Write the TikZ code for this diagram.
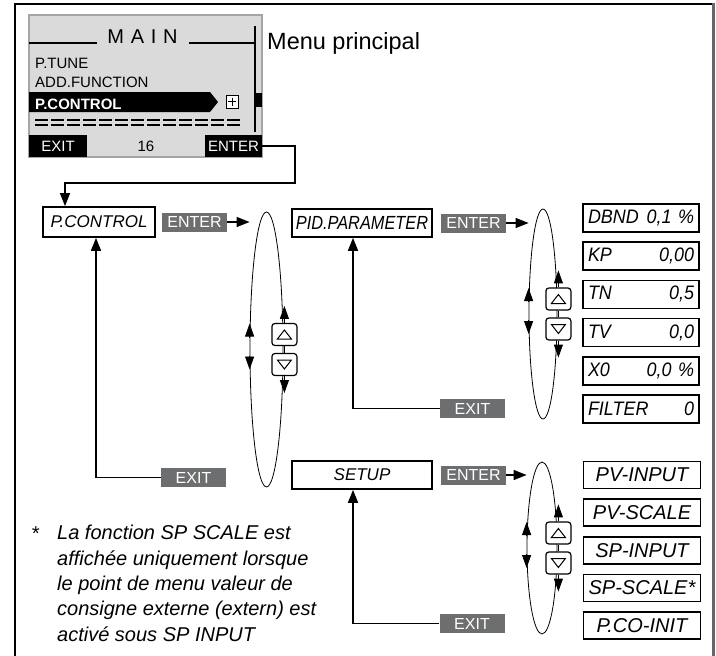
\documentclass[tikz,border=0pt]{standalone}
\usepackage{fontspec}
\setmainfont{Liberation Sans}
\newfontfamily\narrowfont[FakeStretch=0.86]{Liberation Sans}
\newfontfamily\condfont[FakeStretch=0.92]{Liberation Sans}
\usetikzlibrary{arrows.meta,positioning,calc,shapes.geometric}
\definecolor{keygrey}{RGB}{109,110,112}
\definecolor{lcdgrey}{RGB}{218,218,218}
\definecolor{lcdedge}{RGB}{165,165,165}
\tikzset{menubox/.style={draw,line width=1.7pt,minimum height=28pt,inner sep=3pt,font=\itshape\fontsize{17}{20}\selectfont},param/.style={draw,line width=1.7pt,minimum height=28pt,text width=106pt,inner sep=5pt,font=\condfont\itshape\fontsize{19.5}{21}\selectfont},item/.style={draw,line width=1.7pt,minimum width=117pt,minimum height=27pt,inner sep=2pt,font=\itshape\fontsize{20}{22}\selectfont},key/.style={fill=keygrey,text=white,minimum width=65pt,minimum height=19pt,inner sep=0pt,font=\fontsize{16}{16}\selectfont},lcdkey/.style={fill=black,text=white,minimum height=22pt,inner sep=0pt,font=\fontsize{15}{15}\selectfont},lcdtext/.style={inner sep=0pt,anchor=base west,font=\fontsize{15}{15}\selectfont},loop/.style={ellipse,draw,line width=0.8pt,inner sep=0pt},btn/.style={draw,rounded corners=3pt,line width=1.2pt,minimum width=25pt,minimum height=22pt,inner sep=0pt},arrow/.style={line width=1.5pt,-{Triangle[length=13pt,width=10pt]}},tip/.style={line width=0.9pt,-{Triangle[length=13pt,width=9pt]}}}
\begin{document}
\begin{tikzpicture}[x=1pt,y=-1pt]
\useasboundingbox (0,0) rectangle (716,656);
% frame
\draw[line width=1.4pt] (15,662) -- (15,4) -- (713,4);
\draw[line width=3pt,black!60] (713,3) -- (713,662);
% display
\node[draw=lcdedge,fill=lcdgrey,line width=2pt,minimum width=233pt,minimum height=142pt,inner sep=0pt] (lcd) at (145.5,86) {};
\node[inner sep=0pt,anchor=base,font=\fontsize{20}{20}\selectfont] (title) at (142.5,43) {M\,\,A\,\,I\,\,N};
\draw[line width=1.2pt] (29,43) -- (97,43) (189,43) -- (255,43);
\draw[line width=1.2pt] (255,26) -- (255,132);
\fill (255,93) rectangle (262,107);
\node[lcdtext] (tune) at (35,68) {P.TUNE};
\node[lcdtext] (addfn) at (35,87) {ADD.FUNCTION};
\fill (29,92) -- (210,92) -- (218,102) -- (210,112) -- (29,112) -- cycle;
\node[lcdtext,text=white,font=\bfseries\fontsize{15}{15}\selectfont] (selected) at (35,109) {P.CONTROL};
\node[draw,fill=white,line width=1pt,minimum width=12pt,minimum height=13pt,inner sep=0pt] (plus) at (232,101.5) {};
\draw[line width=1pt] ($(plus)+(-4,0)$) -- ++(8,0) ($(plus)+(0,-4)$) -- ++(0,8);
\foreach \i in {0,...,12}
  \draw[line width=1.4pt] (35+16*\i,120) -- ++(13,0) (35+16*\i,125) -- ++(13,0);
\node[lcdkey,minimum width=58pt] (lcdexit) at (58,146) {EXIT};
\node[inner sep=0pt,font=\fontsize{15}{15}\selectfont] (count) at (146,146) {16};
\node[lcdkey,minimum width=57pt] (lcdenter) at (233.5,146) {ENTER};
\node[anchor=base west,inner sep=0pt,font=\fontsize{23.5}{23.5}\selectfont] (menu) at (267,49) {Menu principal};
% menu level
\node[menubox,minimum width=112pt,minimum height=30pt] (pctl) at (99,222) {P.CONTROL};
\node[key,right=6pt of pctl] (enterA) {ENTER};
\node[loop,minimum width=33pt,minimum height=275pt] (loopA) at (266.5,349.5) {};
\node[menubox,minimum width=140pt] (pid) at (362,223) {\narrowfont\fontsize{19}{20}\selectfont PID.PARAMETER};
\node[key,right=8pt of pid] (enterB) {ENTER};
\node[loop,minimum width=28pt,minimum height=210pt] (loopB) at (543,314) {};
\node[menubox,minimum width=140pt] (setup) at (362,475) {SETUP};
\node[key,right=8pt of setup] (enterC) {ENTER};
\node[loop,minimum width=30pt,minimum height=172pt] (loopC) at (542,548) {};
\node[key] (exitA) at (193.5,477.5) {EXIT};
\node[key] (exitB) at (472.5,408.5) {EXIT};
\node[key] (exitC) at (472,623.5) {EXIT};
% PID parameters
\node[param] (dbnd) at (641,218) {DBND\hfill 0,1 \%};
\node[param,below=8.5pt of dbnd] (kp) {KP\hfill 0,00};
\node[param,below=8.5pt of kp] (tn) {TN\hfill 0,5};
\node[param,below=8.5pt of tn] (tv) {TV\hfill 0,0};
\node[param,below=8.5pt of tv] (xzero) {X0\hfill 0,0 \%};
\node[param,below=8.5pt of xzero] (filter) {FILTER\hfill 0};
% setup items
\node[item] (pvin) at (642,475) {PV-INPUT};
\node[item,below=9pt of pvin] (pvscale) {PV-SCALE};
\node[item,below=9pt of pvscale] (spin) {SP-INPUT};
\node[item,below=9pt of spin] (spscale) {SP-SCALE*};
\node[item,below=9pt of spscale] (pcoinit) {P.CO-INIT};
% up/down keys on the loops
\foreach \n in {A,B,C}{
  \node[btn,fill=white] (up\n) at ($(loop\n.east)+(1,-15)$) {};
  \node[btn,fill=white] (dn\n) at ($(loop\n.east)+(1,15)$) {};
  \draw[line width=1pt] ($(up\n)+(-7,4.5)$) -- ++(14,0) -- ++(-7,-9) -- cycle;
  \draw[line width=1pt] ($(dn\n)+(-7,-4.5)$) -- ++(14,0) -- ++(-7,9) -- cycle;
  \draw[line width=1pt] (up\n.south) -- (dn\n.north);
  \draw[tip] (up\n.north) -- ++(0,-17);
  \draw[tip] (dn\n.south) -- ++(0,17);
  \draw[tip] ($(loop\n.west)+(0,-12)$) -- ++(0,-14);
  \draw[tip] ($(loop\n.west)+(0,6)$) -- ++(0,14);
}
% connectors
\coordinate (turn) at (295,183);
\draw[arrow,line width=1.3pt] (lcdenter.east) -| (turn) -| ([xshift=-34pt]pctl.north);
\draw[arrow] (enterA.east) -- (enterA.east -| loopA.west);
\draw[arrow] (enterB.east) -- (enterB.east -| loopB.west);
\draw[arrow] (enterC.east) -- (enterC.east -| loopC.west);
\draw[arrow] (exitA.west) -| ([xshift=-3pt]pctl.south);
\draw[arrow] (exitB.west) -| ([xshift=-9pt]pid.south);
\draw[arrow] (exitC.west) -| ([xshift=-9pt]setup.south);
% footnote
\node[anchor=base west,inner sep=0pt,font=\itshape\fontsize{20}{20}\selectfont] (star) at (31,540) {*};
\node[anchor=north west,inner sep=0pt,align=left,font=\itshape\fontsize{20}{25.4}\selectfont] (note) at (57,525) {La fonction SP SCALE est\\affichée uniquement lorsque\\le point de menu valeur de\\consigne externe (extern) est\\activé sous SP INPUT};
\end{tikzpicture}
\end{document}
